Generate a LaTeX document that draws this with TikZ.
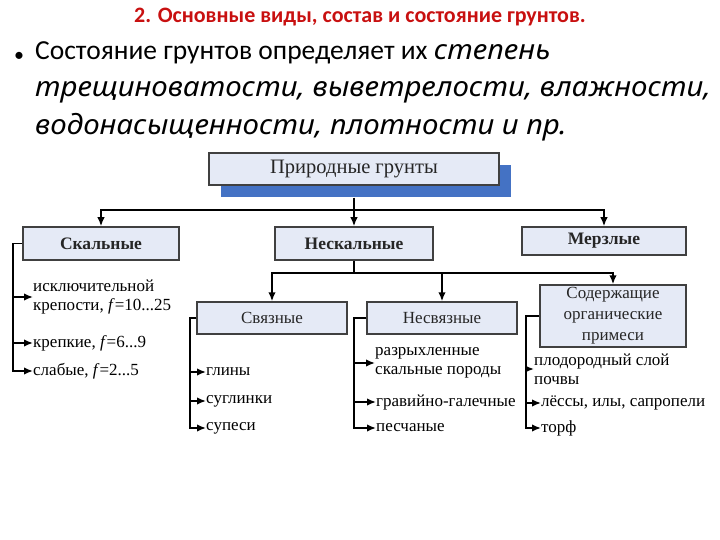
\documentclass[tikz,border=0pt]{standalone}
\usepackage{fontspec}
\setmainfont{Liberation Serif}
\newfontfamily\slidefont{Carlito}
\newfontfamily\slideit[FakeStretch=1.07]{Noto Sans}
\usetikzlibrary{arrows.meta,positioning,shadows}
\definecolor{titlered}{RGB}{200,16,16}
\definecolor{boxfill}{RGB}{229,234,246}
\definecolor{boxline}{RGB}{64,64,64}
\definecolor{shadowblue}{RGB}{68,114,196}
\newcommand{\stateit}[1]{{\slideit\itshape\fontsize{27.5}{37.5}\selectfont #1}}

\begin{document}
\begin{tikzpicture}[x=1pt, y=-1pt,
  box/.style={draw=boxline, line width=1.5pt, fill=boxfill, align=center,
    inner sep=0pt, text=black!85, font=\fontsize{17}{21}\selectfont},
  head/.style={box, font=\fontsize{17.5}{21}\selectfont\bfseries},
  item/.style={anchor=west, align=left, inner sep=0pt,
    font=\fontsize{17}{19}\selectfont},
  flow/.style={-{Latex[length=9pt, width=7.5pt]}, line width=1.6pt},
  link/.style={line width=1.6pt}
]
\useasboundingbox (0,0) rectangle (720,540);

% heading and bullet text
\node[text=titlered, font=\slidefont\fontsize{22}{24}\selectfont\bfseries] (title) at (360,17) {2. Основные виды, состав и состояние грунтов.};
\node[anchor=west, inner sep=0pt, font=\slidefont\fontsize{20}{24}\selectfont] (bullet) at (14,57) {•};
\node[anchor=north west, align=left, inner sep=0pt, font=\slidefont\fontsize{27.5}{37.5}\selectfont] (state) at (35,41)
  {Состояние грунтов определяет их \stateit{степень}\\
   \stateit{трещиноватости, выветрелости, влажности,}\\
   \stateit{водонасыщенности, плотности и пр.}};

% boxes
\node[box, minimum width=290pt, minimum height=32pt, font=\fontsize{20.5}{22}\selectfont,
  drop shadow={shadow xshift=12pt, shadow yshift=-12pt, fill=shadowblue, opacity=1}] (root) at (354,169) {Природные грунты};
\node[head, minimum width=156pt, minimum height=33pt] (rock) at (101,243.5) {Скальные};
\node[head, minimum width=158pt, minimum height=33pt] (soft) at (354,243.5) {Нескальные};
\node[head, minimum width=164pt, minimum height=28pt] (frozen) at (604,241) {Мерзлые};
\node[box, minimum width=150pt, minimum height=32pt] (cohesive) at (272,318) {Связные};
\node[box, minimum width=150pt, minimum height=32pt] (loose) at (442,318) {Несвязные};
\node[box, minimum width=146pt, minimum height=62pt] (organic) at (613,316) {Содержащие\\органические\\примеси};

% items
\node[item] (r1) at (33,297) {исключительной\\крепости, \textit{f}=10...25};
\node[item] (r2) at (33,343) {крепкие, \textit{f}=6...9};
\node[item] (r3) at (33,371) {слабые, \textit{f}=2...5};
\node[item] (c1) at (206,372) {глины};
\node[item] (c2) at (206,401) {суглинки};
\node[item] (c3) at (206,428) {супеси};
\node[item] (l1) at (375,363) {разрыхленные\\скальные породы};
\node[item] (l2) at (376,402) {гравийно-галечные};
\node[item] (l3) at (376,428) {песчаные};
\node[item] (o1) at (534,369) {плодородный слой\\почвы};
\node[item] (o2) at (541,403) {лёссы, илы, сапропели};
\node[item] (o3) at (541,428) {торф};

% spines
\coordinate (bus1) at (0,210);
\coordinate (bus2) at (0,273);
\coordinate (rspine) at (13,0);
\coordinate (cspine) at (190,0);
\coordinate (lspine) at (354,0);
\coordinate (ospine) at (526,0);

% tree
\draw[link] (root.south) ++(0,12) -- (root.south |- bus1);
\draw[flow] (root.south |- bus1) -| (rock.north);
\draw[flow] (root.south |- bus1) -| (frozen.north);
\draw[flow] (root.south |- bus1) -- (soft.north);
\draw[link] (soft.south) -- (soft.south |- bus2);
\draw[flow] (soft.south |- bus2) -| (cohesive.north);
\draw[flow] (soft.south |- bus2) -| (organic.north);
\draw[flow] (loose.north |- bus2) -- (loose.north);

% lists
\draw[flow] (rock.west) -| (rspine |- r3.west) -- (r3.west);
\draw[flow] (rspine |- r1.west) -- (r1.west);
\draw[flow] (rspine |- r2.west) -- (r2.west);
\draw[flow] (cohesive.west) -| (cspine |- c3.west) -- (c3.west);
\draw[flow] (cspine |- c1.west) -- (c1.west);
\draw[flow] (cspine |- c2.west) -- (c2.west);
\draw[flow] (loose.west) -| (lspine |- l3.west) -- (l3.west);
\draw[flow] (lspine |- l1.west) -- (l1.west);
\draw[flow] (lspine |- l2.west) -- (l2.west);
\draw[flow] (organic.west) -| (ospine |- o3.west) -- (o3.west);
\draw[flow] (ospine |- o1.west) -- (o1.west);
\draw[flow] (ospine |- o2.west) -- (o2.west);
\end{tikzpicture}
\end{document}
